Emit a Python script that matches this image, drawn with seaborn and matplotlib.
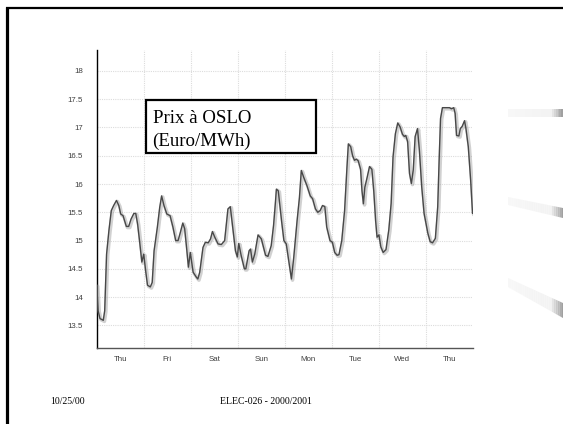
import matplotlib
matplotlib.use("Agg")
import numpy as np
import pandas as pd
import matplotlib.pyplot as plt
import matplotlib.patheffects as pe
import seaborn as sns
from matplotlib.patches import Rectangle, Polygon
from matplotlib.lines import Line2D

# ---------------- data ----------------
day_labels = ["Thu", "Fri", "Sat", "Sun", "Mon", "Tue", "Wed", "Thu"]
y_ticks = [13.5, 14, 14.5, 15, 15.5, 16, 16.5, 17, 17.5, 18]
y_tick_labels = ["13.5", "14", "14.5", "15", "15.5", "16", "16.5", "17", "17.5", "18"]

time_days = [
    0.00, 0.03, 0.07, 0.14, 0.17, 0.21, 0.26, 0.31, 0.36, 0.42, 0.47, 0.51, 0.56,
    0.63, 0.68, 0.73, 0.79, 0.83, 0.87, 0.91, 0.96, 1.00, 1.04, 1.08, 1.14, 1.18,
    1.22, 1.29, 1.34, 1.38, 1.43, 1.49, 1.56, 1.62, 1.68, 1.73, 1.78, 1.83, 1.87,
    1.91, 1.95, 1.99, 2.05, 2.12, 2.15, 2.19, 2.26, 2.31, 2.37, 2.42, 2.46, 2.51,
    2.58, 2.65, 2.72, 2.79, 2.84, 2.89, 2.95, 2.99, 3.02, 3.07, 3.14, 3.17, 3.24,
    3.27, 3.31, 3.36, 3.43, 3.50, 3.59, 3.64, 3.71, 3.76, 3.80, 3.82, 3.86, 3.93,
    3.98, 4.03, 4.07, 4.14, 4.19, 4.26, 4.31, 4.35, 4.40, 4.47, 4.54, 4.59, 4.65,
    4.70, 4.75, 4.80, 4.85, 4.89, 4.96, 5.01, 5.06, 5.11, 5.15, 5.21, 5.27, 5.32,
    5.35, 5.40, 5.44, 5.48, 5.52, 5.56, 5.61, 5.64, 5.67, 5.70, 5.75, 5.80, 5.85,
    5.89, 5.93, 5.96, 6.00, 6.04, 6.09, 6.15, 6.21, 6.26, 6.30, 6.35, 6.40, 6.45,
    6.50, 6.54, 6.57, 6.61, 6.65, 6.69, 6.73, 6.77, 6.82, 6.86, 6.91, 6.96, 7.04,
    7.09, 7.14, 7.20, 7.25, 7.28, 7.31, 7.35, 7.43, 7.50, 7.54, 7.59, 7.62, 7.65,
    7.70, 7.73, 7.77, 7.82, 7.85, 7.90, 7.95, 7.99,
]
price = [
    14.21, 13.76, 13.62, 13.59, 13.76, 14.76, 15.18, 15.53, 15.62, 15.71, 15.62, 15.47, 15.44,
    15.25, 15.25, 15.38, 15.48, 15.48, 15.29, 15.00, 14.62, 14.76, 14.47, 14.21, 14.18, 14.26,
    14.82, 15.24, 15.59, 15.79, 15.62, 15.47, 15.44, 15.24, 15.00, 15.00, 15.15, 15.31, 15.21,
    14.88, 14.53, 14.79, 14.44, 14.35, 14.32, 14.44, 14.88, 14.97, 14.96, 15.03, 15.16, 15.06,
    14.94, 14.93, 15.00, 15.56, 15.60, 15.24, 14.82, 14.71, 14.95, 14.74, 14.50, 14.50, 14.82,
    14.85, 14.62, 14.76, 15.10, 15.03, 14.74, 14.72, 14.91, 15.27, 15.68, 15.91, 15.88, 15.35,
    15.00, 14.94, 14.71, 14.32, 14.71, 15.35, 15.76, 16.24, 16.12, 15.97, 15.79, 15.74, 15.56,
    15.50, 15.53, 15.62, 15.60, 15.24, 15.00, 14.97, 14.79, 14.74, 14.75, 15.00, 15.53, 16.29,
    16.71, 16.66, 16.50, 16.42, 16.44, 16.41, 16.26, 15.88, 15.65, 15.94, 16.12, 16.31, 16.26,
    15.88, 15.35, 15.06, 15.10, 14.89, 14.79, 14.84, 15.19, 15.66, 16.48, 16.89, 17.08, 17.01,
    16.88, 16.84, 16.86, 16.75, 16.19, 16.01, 16.25, 16.84, 16.98, 16.60, 15.95, 15.48, 15.13,
    14.98, 14.96, 15.04, 15.60, 16.42, 17.16, 17.35, 17.35, 17.35, 17.33, 17.35, 17.25, 16.86,
    16.85, 16.98, 17.02, 17.12, 16.98, 16.66, 16.07, 15.48,
]

box_line1 = "Prix à OSLO"
box_line2 = "(Euro/MWh)"
footer_date = "10/25/00"
footer_course = "ELEC-026 - 2000/2001"

# ---------------- figure ----------------
sns.set_style("white")
W_PX, H_PX = 563, 424
fig = plt.figure(figsize=(W_PX / 100, H_PX / 100), dpi=100)
fig.patch.set_facecolor("white")


def fx(px):
    return px / W_PX


def fy(py):
    return 1 - py / H_PX


# decorative grey streaks on the right (slide background)
def streak(x0, x1, y_top0, y_bot0, y_top1, y_bot1):
    n = 30
    xs = np.linspace(x0, x1, n + 1)
    for i in range(n):
        xa, xb = xs[i], xs[i + 1]
        t_a = (xa - x0) / (x1 - x0)
        t_b = (xb - x0) / (x1 - x0)
        ta = y_top0 + (y_top1 - y_top0) * t_a
        ba = y_bot0 + (y_bot1 - y_bot0) * t_a
        tb = y_top0 + (y_top1 - y_top0) * t_b
        bb = y_bot0 + (y_bot1 - y_bot0) * t_b
        tm = (t_a + t_b) / 2
        if tm < 0.8:
            g = 0.97 - 0.025 * tm
        else:
            g = 0.92 - (tm - 0.8) / 0.2 * 0.32
        poly = Polygon([(fx(xa), fy(ta)), (fx(xb), fy(tb)), (fx(xb), fy(bb)), (fx(xa), fy(ba))],
                       closed=True, transform=fig.transFigure, facecolor=(g, g, g),
                       edgecolor="none", zorder=0)
        fig.patches.append(poly)


streak(508, 563, 109, 116.5, 109, 116.5)
streak(508, 563, 197, 205, 208, 218)
streak(508, 563, 278, 287, 303, 318)

# slide frame (left and top)
fig.add_artist(Line2D([fx(6.5), fx(6.5)], [fy(7), fy(424)], transform=fig.transFigure,
                      color="black", lw=2.3, solid_capstyle="butt"))
fig.add_artist(Line2D([fx(5.5), fx(563)], [fy(8), fy(8)], transform=fig.transFigure,
                      color="black", lw=1.6, solid_capstyle="butt"))

# axes
ax_left, ax_right, ax_top, ax_bottom = 96.7, 473, 50, 348
ax = fig.add_axes([fx(ax_left), fy(ax_bottom), fx(ax_right - ax_left), (ax_bottom - ax_top) / H_PX])
ax.set_facecolor("white")

df = pd.DataFrame({"day": time_days, "price": price})
sns.lineplot(data=df, x="day", y="price", ax=ax, color="#484848", lw=1.0, zorder=3,
             path_effects=[pe.SimpleLineShadow(offset=(0.8, -0.8), shadow_color="#9a9a9a",
                                               alpha=0.45, linewidth=2.6),
                           pe.Normal()])

ax.set_xlim(0, 8)
ax.set_ylim(13.10, 18.37)
ax.set_xlabel("")
ax.set_ylabel("")

ax.set_xticks([i + 0.5 for i in range(len(day_labels))])
ax.set_xticklabels(day_labels)
ax.set_xticks([float(i) for i in range(1, len(day_labels))], minor=True)
ax.set_yticks(y_ticks)
ax.set_yticklabels(y_tick_labels)

ax.grid(False)
ax.grid(which="minor", axis="x", color="#dcdcdc", ls=(0, (1, 1)), lw=0.8)
ax.grid(which="major", axis="y", color="#dcdcdc", ls=(0, (1, 1)), lw=0.8)
ax.set_axisbelow(True)

ax.tick_params(axis="both", which="both", length=0)
ax.tick_params(axis="x", pad=6)
ax.tick_params(axis="y", pad=10)
for lab in ax.get_xticklabels() + ax.get_yticklabels():
    lab.set_fontfamily("Liberation Sans")
    lab.set_fontsize(5.7)
    lab.set_color("#404040")

for s in ["top", "right"]:
    ax.spines[s].set_visible(False)
ax.spines["left"].set_color("black")
ax.spines["left"].set_linewidth(1.0)
ax.spines["bottom"].set_color("#555555")
ax.spines["bottom"].set_linewidth(1.0)

# title box
fig.patches.append(Rectangle((fx(146), fy(153.3)), fx(315.7 - 146), (153.3 - 100) / H_PX,
                             transform=fig.transFigure, facecolor="white", edgecolor="black",
                             lw=1.6, zorder=5))
fig.text(fx(152.5), fy(123), box_line1, family="Liberation Serif", fontsize=13.6,
         va="baseline", ha="left", color="black", zorder=6)
fig.text(fx(152.5), fy(146), box_line2, family="Liberation Serif", fontsize=13.6,
         va="baseline", ha="left", color="black", zorder=6)

# footer
fig.text(fx(50), fy(402), footer_date, family="Liberation Serif", fontsize=7, va="center",
         ha="left", color="black")
fig.text(fx(266), fy(402), footer_course, family="Liberation Serif", fontsize=7, va="center",
         ha="center", color="black")

fig.savefig("out.png", dpi=100)
